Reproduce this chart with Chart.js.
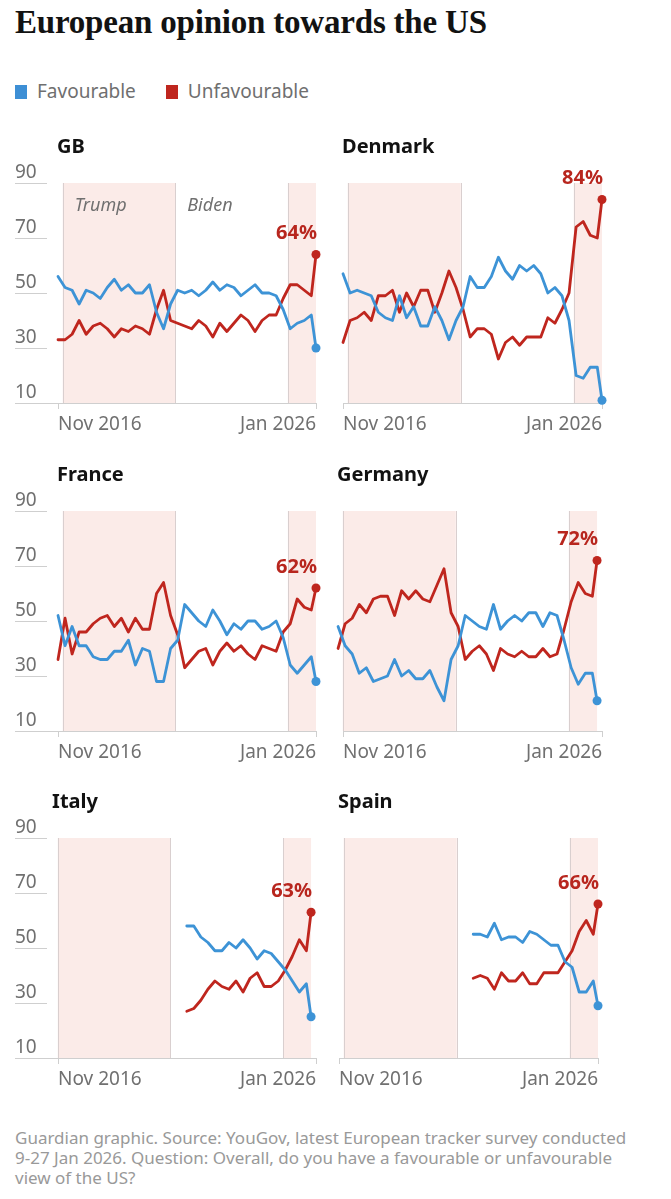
<!DOCTYPE html>
<html>
<head>
<meta charset="utf-8">
<title>European opinion towards the US</title>
<script src="https://cdn.jsdelivr.net/npm/chart.js@4.4.1/dist/chart.umd.min.js"></script>
<style>
  body { margin: 0; background: #fff; }
  #page { position: relative; width: 671px; height: 1199px; overflow: hidden; font-family: "Noto Sans", sans-serif; }
  h1 { position: absolute; left: 15px; top: 3px; margin: 0; font: bold 33px/38px "Liberation Serif", serif; color: #121212; letter-spacing: -0.2px; white-space: nowrap; }
  .legend { position: absolute; left: 15px; top: 80px; font-size: 19px; line-height: 22px; color: #6f6f6f; white-space: nowrap; }
  .legend .key { display: inline-block; width: 12px; height: 14px; margin-right: 10px; vertical-align: -1px; }
  .legend .item + .item { margin-left: 25px; }
  .panel { position: absolute; }
  .source { position: absolute; left: 15px; top: 1128px; font-size: 17px; line-height: 20px; color: #999; white-space: nowrap; }
</style>
</head>
<body>
<div id="page">
  <h1>European opinion towards the US</h1>
  <div class="legend">
    <span class="item"><span class="key" style="background:#3d8fd5"></span>Favourable</span>
    <span class="item"><span class="key" style="background:#bf261e"></span>Unfavourable</span>
  </div>
  <div id="panels"></div>
  <div class="source">Guardian graphic. Source: YouGov, latest European tracker survey conducted<br>9-27 Jan 2026. Question: Overall, do you have a favourable or unfavourable<br>view of the US?</div>
</div>
<script>
const MONTHS = ['Jan', 'Feb', 'Mar', 'Apr', 'May', 'Jun', 'Jul', 'Aug', 'Sep', 'Oct', 'Nov', 'Dec'];

// YouGov tracker waves, roughly quarterly
const waves = [
  'Nov 2016',
  'Feb 2017', 'May 2017', 'Aug 2017', 'Nov 2017',
  'Feb 2018', 'May 2018', 'Aug 2018', 'Nov 2018',
  'Feb 2019', 'May 2019', 'Aug 2019', 'Nov 2019',
  'Feb 2020', 'May 2020', 'Aug 2020', 'Nov 2020',
  'Feb 2021', 'May 2021', 'Aug 2021', 'Nov 2021',
  'Feb 2022', 'May 2022', 'Aug 2022', 'Nov 2022',
  'Feb 2023', 'May 2023', 'Aug 2023', 'Nov 2023',
  'Feb 2024', 'May 2024', 'Aug 2024', 'Nov 2024',
  'Feb 2025', 'May 2025', 'Aug 2025', 'Nov 2025',
  'Jan 2026'
];

const gbFav = [56, 52, 51, 46, 51, 50, 48, 52, 55, 51, 53, 50, 50, 53, 43, 37, 46, 51, 50, 51, 49, 51, 54, 51, 53, 52, 49, 51, 53, 50, 50, 49, 44, 37, 39, 40, 42, 30];
const gbUnfav = [33, 33, 35, 40, 35, 38, 39, 37, 34, 37, 36, 38, 37, 35, 44, 51, 40, 39, 38, 37, 40, 38, 34, 39, 36, 39, 42, 40, 36, 40, 42, 42, 48, 53, 53, 51, 49, 64];

const dkFav = [57, 50, 51, 50, 49, 43, 41, 40, 49, 41, 45, 38, 38, 45, 40, 33, 40, 45, 56, 52, 52, 56, 63, 58, 55, 60, 58, 60, 57, 50, 52, 49, 40, 20, 19, 23, 23, 11];
const dkUnfav = [32, 40, 41, 43, 40, 49, 49, 51, 43, 50, 45, 51, 51, 43, 50, 58, 52, 44, 34, 37, 37, 35, 26, 32, 34, 31, 34, 34, 34, 41, 39, 44, 50, 74, 76, 71, 70, 84];

const frFav = [52, 41, 48, 41, 41, 37, 36, 36, 39, 39, 43, 34, 40, 39, 28, 28, 40, 43, 56, 53, 50, 48, 54, 50, 45, 49, 47, 50, 50, 47, 48, 50, 44, 34, 31, 34, 37, 28];
const frUnfav = [36, 51, 38, 46, 46, 49, 51, 52, 48, 51, 46, 51, 47, 47, 60, 64, 52, 45, 33, 36, 39, 40, 34, 39, 42, 39, 41, 38, 36, 41, 40, 39, 46, 49, 58, 55, 54, 62];

const deFav = [48, 41, 38, 31, 33, 28, 29, 30, 36, 30, 32, 29, 29, 32, 26, 21, 36, 41, 52, 50, 48, 47, 56, 47, 50, 52, 50, 53, 53, 48, 53, 52, 43, 33, 27, 31, 31, 21];
const deUnfav = [40, 49, 51, 56, 53, 58, 59, 59, 52, 61, 58, 61, 58, 57, 63, 69, 53, 48, 36, 39, 41, 38, 32, 40, 38, 37, 39, 37, 37, 40, 37, 38, 47, 57, 64, 60, 59, 72];

// Italy and Spain join the tracker in Aug 2021
const itFav = [null, null, null, null, null, null, null, null, null, null, null, null, null, null, null, null, null, null, null,
  58, 58, 54, 52, 49, 49, 52, 50, 53, 50, 46, 49, 48, 45, 42, 38, 34, 37, 25];
const itUnfav = [null, null, null, null, null, null, null, null, null, null, null, null, null, null, null, null, null, null, null,
  27, 28, 31, 35, 38, 36, 35, 38, 34, 39, 41, 36, 36, 38, 42, 47, 53, 49, 63];

const esFav = [null, null, null, null, null, null, null, null, null, null, null, null, null, null, null, null, null, null, null,
  55, 55, 54, 59, 53, 54, 54, 52, 56, 55, 53, 51, 51, 45, 43, 34, 34, 38, 29];
const esUnfav = [null, null, null, null, null, null, null, null, null, null, null, null, null, null, null, null, null, null, null,
  39, 40, 39, 35, 41, 38, 38, 41, 37, 37, 41, 41, 41, 45, 49, 56, 60, 55, 66];

const eras = [
  { label: 'Trump', from: 'Jan 2017', to: 'Jan 2021', shaded: true },
  { label: 'Biden', from: 'Jan 2021', to: 'Jan 2025', shaded: false },
  { label: 'Trump', from: 'Jan 2025', to: 'Jan 2026', shaded: true }
];

const xTickLabels = ['Nov 2016', 'Jan 2026'];
const yTicks = [10, 30, 50, 70, 90];

const BLUE = '#3d93d6';
const RED = '#bf261e';
const LABEL_RED = '#b8261e';
const SHADE = '#fbebe8';
const DIVIDER = '#d9cfcf';
const AXIS = '#cfcfcf';
const MUTED = '#707070';

const monthIndex = (label) => {
  const [mon, year] = label.split(' ');
  return (Number(year) - 2016) * 12 + MONTHS.indexOf(mon) - 10;
};

const panels = [
  { title: 'GB', fav: gbFav, unfav: gbUnfav, left: 0, top: 130, yAxis: true, eraLabels: true },
  { title: 'Denmark', fav: dkFav, unfav: dkUnfav, left: 330, top: 130 },
  { title: 'France', fav: frFav, unfav: frUnfav, left: 0, top: 458, yAxis: true },
  { title: 'Germany', fav: deFav, unfav: deUnfav, left: 330, top: 458, nudge: 2.1 },
  { title: 'Italy', fav: itFav, unfav: itUnfav, left: 0, top: 785, yAxis: true, nudge: 2.1 },
  { title: 'Spain', fav: esFav, unfav: esUnfav, left: 326, top: 785 }
];

const panelDecor = {
  id: 'panelDecor',
  beforeDraw(chart, args, opts) {
    const { ctx, scales: { x, y } } = chart;
    const top = y.getPixelForValue(yTicks[yTicks.length - 1]);
    const bottom = y.getPixelForValue(yTicks[0]);
    ctx.save();
    eras.forEach((era, i) => {
      const x0 = x.getPixelForValue(monthIndex(era.from));
      const x1 = x.getPixelForValue(monthIndex(era.to));
      if (era.shaded) {
        ctx.fillStyle = SHADE;
        ctx.fillRect(x0, top, x1 - x0, bottom - top);
      }
      ctx.strokeStyle = DIVIDER;
      ctx.lineWidth = 1;
      ctx.beginPath();
      ctx.moveTo(Math.round(x0) + 0.5, top);
      ctx.lineTo(Math.round(x0) + 0.5, bottom);
      ctx.stroke();
      if (opts.eraLabels && i < 2) {
        ctx.fillStyle = MUTED;
        ctx.font = 'italic 18px "Noto Sans"';
        ctx.textAlign = 'left';
        ctx.textBaseline = 'middle';
        ctx.fillText(era.label, x0 + 12, top + 23);
      }
    });
    ctx.restore();
  },
  afterDatasetsDraw(chart, args, opts) {
    const { ctx, chartArea, scales: { x } } = chart;
    ctx.save();
    ctx.fillStyle = '#121212';
    ctx.font = 'bold 20px "Noto Sans"';
    ctx.textAlign = 'left';
    ctx.textBaseline = 'middle';
    ctx.fillText(opts.title, x.getPixelForValue(monthIndex(waves[0])) - 1, chartArea.top - 36);

    const ds = chart.data.datasets[1];
    const last = ds.data.length - 1;
    const pt = chart.getDatasetMeta(1).data[last];
    ctx.fillStyle = LABEL_RED;
    ctx.textAlign = 'right';
    ctx.fillText(ds.data[last] + '%', pt.x + 1, pt.y - 21);
    ctx.restore();
  }
};

const host = document.getElementById('panels');
const months = waves.map(monthIndex);
const xEnd = monthIndex(xTickLabels[1]);

panels.forEach((p) => {
  const canvas = document.createElement('canvas');
  const width = p.yAxis ? 330 : 290;
  canvas.width = width;
  canvas.height = 310;
  canvas.className = 'panel';
  canvas.style.left = p.left + 'px';
  canvas.style.top = p.top + 'px';
  canvas.style.width = width + 'px';
  canvas.style.height = '310px';
  host.appendChild(canvas);

  const nudge = p.nudge || 0;
  const xMin = (p.yAxis ? -4.7 : 0) + nudge;
  const tickAt = xTickLabels.map(l => monthIndex(l) + nudge);
  const lastDot = (values) => (c) => (c.dataIndex === values.length - 1 ? 4.5 : 0);

  const line = (label, values, color) => ({
    label,
    data: values,
    borderColor: color,
    backgroundColor: color,
    borderWidth: 2.8,
    borderJoinStyle: 'round',
    borderCapStyle: 'round',
    pointRadius: lastDot(values),
    pointBorderWidth: 0,
    pointBackgroundColor: color,
    tension: 0,
    clip: false
  });

  new Chart(canvas, {
    type: 'line',
    data: {
      labels: months,
      datasets: [
        line('Favourable', p.fav, BLUE),
        line('Unfavourable', p.unfav, RED)
      ]
    },
    options: {
      responsive: false,
      animation: false,
      events: [],
      layout: {
        padding: p.yAxis
          ? { left: 15, right: 14, top: 53, bottom: 0 }
          : { left: 13, right: 18, top: 53, bottom: 0 }
      },
      plugins: {
        legend: { display: false },
        tooltip: { enabled: false },
        panelDecor: { title: p.title, eraLabels: !!p.eraLabels }
      },
      scales: {
        x: {
          type: 'linear',
          min: xMin,
          max: xEnd + nudge,
          afterBuildTicks: (axis) => { axis.ticks = tickAt.map(v => ({ value: v })); },
          afterFit: (axis) => { axis.height = 37; },
          ticks: {
            callback: (v, i) => xTickLabels[i],
            align: 'inner',
            autoSkip: false,
            maxRotation: 0,
            padding: 4,
            color: MUTED,
            font: { family: 'Noto Sans', size: 19 }
          },
          grid: { drawOnChartArea: false, drawTicks: true, tickLength: 6, color: AXIS },
          border: { display: true, color: AXIS }
        },
        y: {
          display: !!p.yAxis,
          min: yTicks[0],
          max: yTicks[yTicks.length - 1],
          afterBuildTicks: (axis) => { axis.ticks = yTicks.map(v => ({ value: v })); },
          afterFit: (axis) => { axis.width = p.yAxis ? 32 : 0; },
          ticks: {
            crossAlign: 'far',
            labelOffset: -10,
            padding: 0,
            color: MUTED,
            font: { family: 'Noto Sans', size: 19 }
          },
          grid: { drawOnChartArea: false, drawTicks: true, tickLength: 32, color: AXIS },
          border: { display: false }
        }
      }
    },
    plugins: [panelDecor]
  });
});
</script>
</body>
</html>
